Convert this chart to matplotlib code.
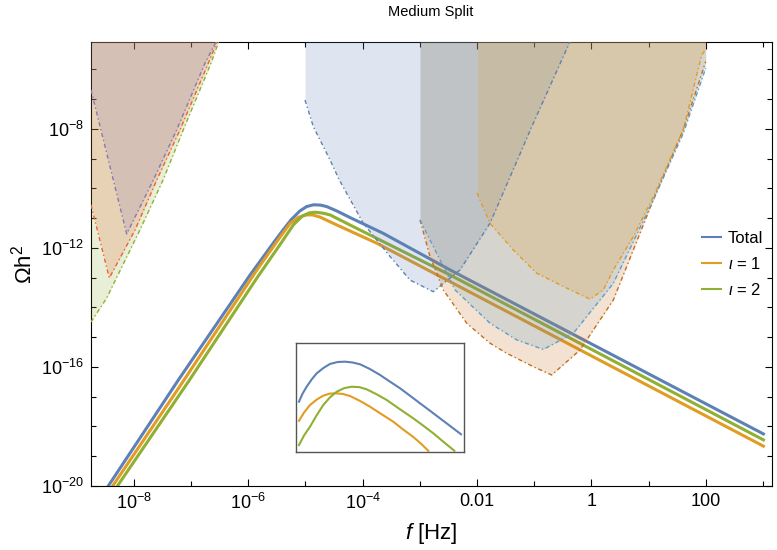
import numpy as np
import matplotlib.pyplot as plt
from matplotlib.ticker import FixedLocator, FixedFormatter, NullFormatter
from matplotlib.lines import Line2D

plt.rcParams['font.family'] = ['Liberation Sans', 'DejaVu Sans']
plt.rcParams['mathtext.fontset'] = 'custom'
plt.rcParams['mathtext.rm'] = 'Liberation Sans'
plt.rcParams['mathtext.it'] = 'Liberation Sans:italic'

# signal spectra (log10 f [Hz], log10 Omega h^2)
total_logf = [-8.52, -8.45, -7.225, -5.97, -5.55, -5.39, -5.25, -5.10, -4.98, -4.86,
              -4.74, -4.63, -4.45, -4.22, -3.64, -2.47, 3.01]
total_logo = [-20.2, -20.0, -16.44, -12.91, -11.80, -11.39, -11.05, -10.76, -10.61, -10.55,
              -10.56, -10.61, -10.76, -10.98, -11.51, -12.74, -18.25]
i1_logf = [-8.44, -8.373, -7.125, -5.85, -5.45, -5.27, -5.12, -4.98, -4.88, -4.75,
           -4.45, -3.755, 3.01]
i1_logo = [-20.2, -20.0, -16.44, -12.74, -11.65, -11.18, -10.97, -10.89, -10.89, -10.96,
           -11.23, -11.84, -18.66]
i2_logf = [-8.36, -8.29, -7.03, -5.85, -5.45, -5.21, -5.05, -4.93, -4.83, -4.70,
           -4.57, -4.22, -2.47, 3.01]
i2_logo = [-20.2, -20.0, -16.44, -13.01, -11.9, -11.22, -10.92, -10.82, -10.80, -10.83,
           -10.89, -11.23, -12.91, -18.45]

# sensitivity curves, low frequency (PTA-like)
pta_g_logf = [-8.752, -8.48, -7.895, -7.49, -7.138, -6.653, -6.52]
pta_g_logo = [-14.49, -13.69, -11.39, -9.71, -8.03, -5.79, -5.08]
pta_r_logf = [-8.752, -8.432, -7.98, -7.60, -7.195, -6.70, -6.548]
pta_r_logo = [-10.55, -13.01, -11.39, -9.71, -8.03, -5.79, -5.08]
pta_p_logf = [-8.752, -8.128, -7.66, -7.253, -6.758, -6.566]
pta_p_logo = [-6.69, -11.53, -9.71, -8.03, -5.79, -5.08]

# sensitivity curves, mid/high frequency
blue_logf = [-5.009, -4.864, -4.572, -4.41, -3.99, -3.52, -3.347, -3.172, -2.765,
             -2.298, -1.773, -1.016, -0.374]
blue_logo = [-7.03, -7.92, -9.04, -9.71, -11.17, -12.29, -12.68, -13.08, -13.47,
             -12.74, -11.17, -7.81, -5.07]
dark_logf = [-2.997, -2.822, -2.59, -2.18, -1.773, -1.48, -1.016, -0.694, -0.199,
             0.384, 1.083, 1.608, 2.0]
dark_logo = [-11.06, -12.29, -13.41, -14.53, -15.2, -15.54, -15.99, -16.27, -15.43,
             -13.75, -10.39, -8.03, -5.74]
lblue_logf = [-2.997, -2.705, -2.385, -1.773, -1.306, -0.84, -0.316, 0.384, 1.083, 1.608, 2.0]
lblue_logo = [-11.06, -12.18, -13.41, -14.53, -15.09, -15.41, -14.87, -13.19, -10.39, -8.15, -5.96]
orng_logf = [-1.995, -1.948, -1.773, -1.365, -0.956, -0.432, -0.024, 0.209, 0.384,
             0.734, 1.083, 1.608, 1.93, 2.0]
orng_logo = [-10.16, -10.39, -11.17, -12.07, -12.85, -13.35, -13.72, -13.41, -12.74,
             -11.62, -10.28, -8.03, -5.51, -5.34]

# inset (arbitrary units)
in_total_u = [1.96, 4, 6.5, 9.5, 12.5, 16.5, 20.4, 25, 29.3, 34, 38.3, 44, 50.2, 56,
              62.1, 68, 74, 80, 85.9, 92, 98.4]
in_total_v = [45.9, 53, 59.6, 66.3, 71.9, 76.8, 80.5, 82.3, 82.6, 81.8, 80.2, 76, 70.4, 64.4,
              58.2, 51.4, 44.4, 37.5, 30.6, 23.5, 16]
in_i1_u = [1.96, 5, 8.5, 12.5, 16.4, 20, 23.4, 28, 32.3, 38, 44.2, 51, 58.1, 64, 70, 74.5, 78.9]
in_i1_v = [28.4, 36, 42.8, 47.8, 51.4, 53.2, 53.6, 53, 51.1, 46.8, 41.3, 34.5, 27.5, 20.3, 13.5,
           7.5, 0.9]
in_i2_u = [1.96, 5, 8.5, 12.5, 16.4, 20.5, 24.4, 29, 33.3, 38, 42.3, 48, 54.2, 62, 70, 76,
           81.9, 88, 94.4]
in_i2_v = [6.1, 15, 22.9, 33.5, 42.8, 50, 55, 58.4, 59.6, 59.2, 57.2, 52.8, 47.4, 39, 30.6, 23.8,
           16.9, 9, 0.9]

x_major = [1e-8, 1e-6, 1e-4, 1e-2, 1, 100]
x_labels = ['$10^{-8}$', '$10^{-6}$', '$10^{-4}$', '0.01', '1', '100']
x_minor = [1e-7, 1e-5, 1e-3, 1e-1, 10, 1000]
y_major = [1e-20, 1e-16, 1e-12, 1e-8]
y_labels = ['$10^{-20}$', '$10^{-16}$', '$10^{-12}$', '$10^{-8}$']
y_minor = [10.0**k for k in range(-19, -5) if k % 4 != 0]

c_total = '#5E81B5'
c_i1 = '#E19C24'
c_i2 = '#8FB032'

fig = plt.figure(figsize=(7.77, 5.5), dpi=100)
ax = fig.add_axes([91/777, 1-486/550, 681/777, 444/550])

p = lambda a: np.power(10.0, a)

ax.plot(p(total_logf), p(total_logo), color=c_total, lw=2.2, zorder=2)
ax.plot(p(i1_logf), p(i1_logo), color=c_i1, lw=2.2, zorder=2)
ax.plot(p(i2_logf), p(i2_logo), color=c_i2, lw=2.2, zorder=2)

dash = (0, (3, 2, 1, 2))
regions = [
    (pta_g_logf, pta_g_logo, '#8FB032'),
    (pta_r_logf, pta_r_logo, '#EB6235'),
    (pta_p_logf, pta_p_logo, '#8778B3'),
    (blue_logf, blue_logo, '#5E81B5'),
    (dark_logf, dark_logo, '#C56E1A'),
    (lblue_logf, lblue_logo, '#5D9EC7'),
    (orng_logf, orng_logo, '#E19C24'),
]
for lf, lo, c in regions:
    ax.fill_between(p(lf), p(lo), 1e-3, color=c, alpha=0.2, lw=0, zorder=3)
    ax.plot(p(lf), p(lo), color=c, lw=1.0, ls=dash, zorder=4)

ax.set_xscale('log')
ax.set_yscale('log')
ax.set_xlim(10**-8.752, 10**3.16)
ax.set_ylim(1e-20, 10**-5.08)

ax.xaxis.set_major_locator(FixedLocator(x_major))
ax.xaxis.set_major_formatter(FixedFormatter(x_labels))
ax.xaxis.set_minor_locator(FixedLocator(x_minor))
ax.xaxis.set_minor_formatter(NullFormatter())
ax.yaxis.set_major_locator(FixedLocator(y_major))
ax.yaxis.set_major_formatter(FixedFormatter(y_labels))
ax.yaxis.set_minor_locator(FixedLocator(y_minor))
ax.yaxis.set_minor_formatter(NullFormatter())
ax.tick_params(which='both', direction='in', top=True, right=True, labelsize=13, width=0.8)
ax.tick_params(which='major', length=5, pad=5)
ax.tick_params(which='minor', length=3.5)

ax.set_xlabel('$f$ [Hz]', fontsize=16, labelpad=6)
ax.set_ylabel(r'$\Omega$h$^2$', fontsize=16, labelpad=3)
fig.text(431/777, 1-12/550, 'Medium Split', ha='center', va='center', fontsize=10.5)

handles = [Line2D([], [], color=c_total, lw=1.5),
           Line2D([], [], color=c_i1, lw=1.5),
           Line2D([], [], color=c_i2, lw=1.5)]
ax.legend(handles, ['Total', r'$\iota$ = 1', r'$\iota$ = 2'], loc='upper left',
          bbox_to_anchor=(702/777, 1-231/550), bbox_transform=fig.transFigure,
          frameon=False, fontsize=12, handlelength=1.15, handletextpad=0.4,
          labelspacing=0.6, borderpad=0, borderaxespad=0)

axin = fig.add_axes([295.7/777, 1-451.7/550, 168/777, 109/550])
axin.plot(in_total_u, in_total_v, color=c_total, lw=1.5)
axin.plot(in_i1_u, in_i1_v, color=c_i1, lw=1.5)
axin.plot(in_i2_u, in_i2_v, color=c_i2, lw=1.5)
axin.set_xlim(0, 100)
axin.set_ylim(0, 100)
axin.set_xticks([])
axin.set_yticks([])
for s in axin.spines.values():
    s.set_color('#555555')
    s.set_linewidth(1.0)

fig.savefig('out.png', dpi=100)
